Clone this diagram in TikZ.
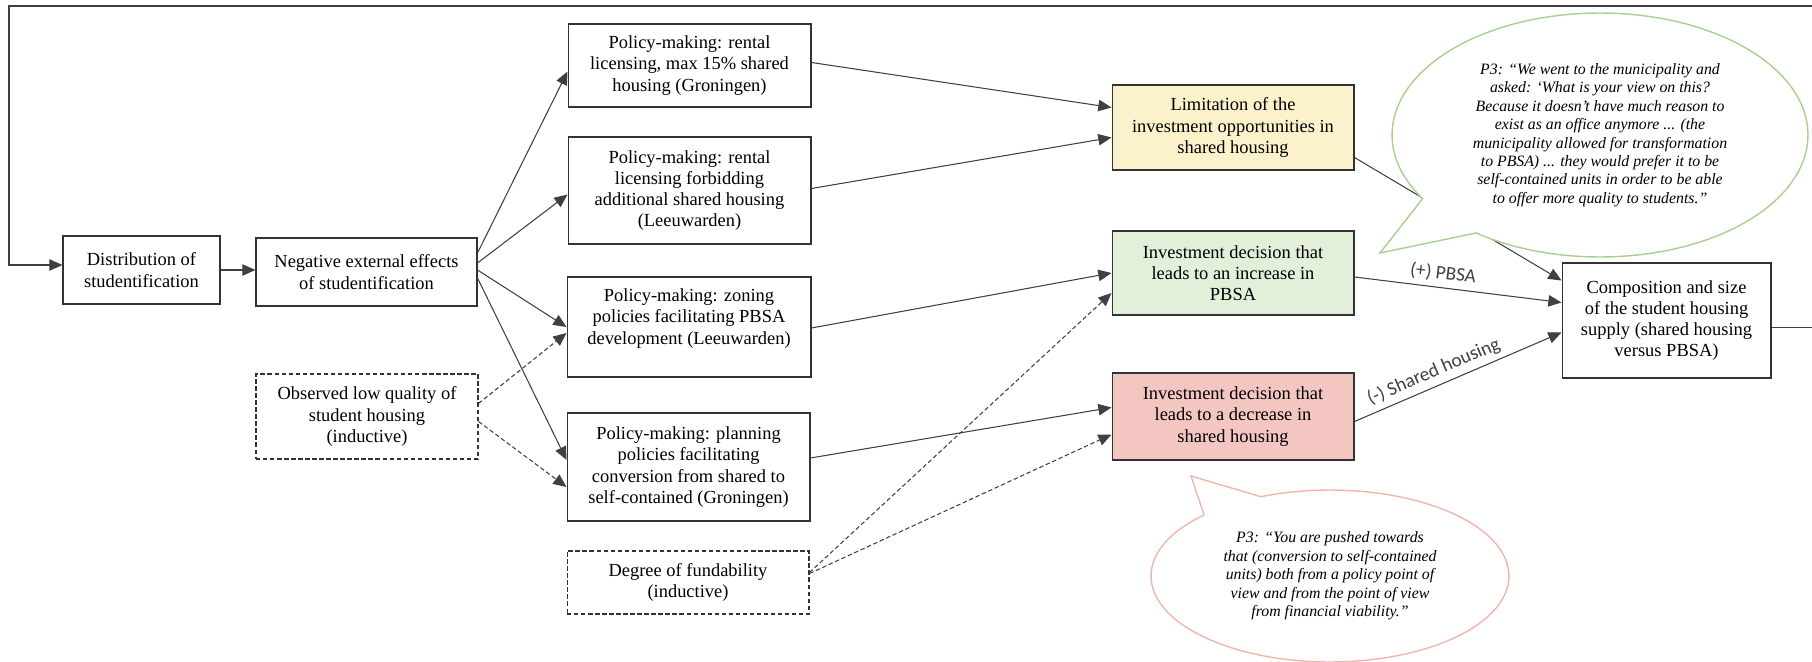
\documentclass[tikz,border=0pt]{standalone}
\usepackage{fontspec}
\setmainfont{Liberation Serif}
\newfontfamily\labelfont{Carlito}
\usepackage{tikz}
\usetikzlibrary{arrows.meta, calc, shapes.callouts}

\definecolor{limitfill}{HTML}{FBF2CC}
\definecolor{incrfill}{HTML}{E2EFD9}
\definecolor{decrfill}{HTML}{F4C6C1}
\definecolor{greenline}{HTML}{A9D18E}
\definecolor{redline}{HTML}{F2B5AA}

\begin{document}
\begin{tikzpicture}[
        x=0.02cm, y=-0.02cm,
        boxnode/.style={rectangle, draw=black!80, fill=white, line width=0.6pt, align=center, inner sep=1pt, font=\fontsize{10.5}{12.1}\selectfont},
        dashnode/.style={boxnode, dash pattern=on 2.5pt off 1.5pt},
        quotenode/.style={ellipse callout, draw=#1, fill=white, line width=0.8pt, callout pointer arc=22, inner sep=0pt, align=center, font=\fontsize{9}{10.5}\selectfont\itshape},
        linkarrow/.style={-{Triangle[length=7.5pt, width=6.5pt]}, line width=0.6pt, color=black!75},
        dasharrow/.style={linkarrow, dash pattern=on 2.5pt off 1.5pt},
        edgelabel/.style={font=\labelfont\fontsize{11}{13}\selectfont, sloped, above, inner sep=3pt}
    ]
        \useasboundingbox (0,0) rectangle (1812,662);

        % Causes
        \node[boxnode, minimum width=3.14cm, minimum height=1.36cm] (dist) at (141.5, 270) {Distribution of\\ studentification};
        \node[boxnode, minimum width=4.42cm, minimum height=1.36cm] (neg) at (366.5, 272) {Negative external effects\\ of studentification};
        \node[dashnode, minimum width=4.44cm, minimum height=1.70cm] (obs) at (367, 416.5) {Observed low quality of\\ student housing\\ (inductive)};

        % Policy-making
        \node[boxnode, minimum width=4.86cm, minimum height=1.66cm] (p1) at (689.5, 65.5) {Policy-making: rental\\ licensing, max 15\% shared\\ housing (Groningen)};
        \node[boxnode, minimum width=4.86cm, minimum height=2.14cm] (p2) at (689.5, 190.5) {Policy-making: rental\\ licensing forbidding\\ additional shared housing\\ (Leeuwarden)};
        \node[boxnode, minimum width=4.88cm, minimum height=2.0cm] (p3) at (689, 327) {Policy-making: zoning\\ policies facilitating PBSA\\ development (Leeuwarden)\\ \mbox{}};
        \node[boxnode, minimum width=4.86cm, minimum height=2.16cm] (p4) at (688.5, 467) {Policy-making: planning\\ policies facilitating\\ conversion from shared to\\ self-contained (Groningen)};
        \node[dashnode, minimum width=4.84cm, minimum height=1.26cm] (fund) at (688, 582.5) {Degree of fundability\\ (inductive)};

        % Investment outcomes
        \node[boxnode, fill=limitfill, minimum width=4.84cm, minimum height=1.70cm] (limit) at (1233, 127.5) {Limitation of the\\ investment opportunities in\\ shared housing};
        \node[boxnode, fill=incrfill, minimum width=4.84cm, minimum height=1.68cm] (incr) at (1233, 273) {Investment decision that\\ leads to an increase in\\ PBSA};
        \node[boxnode, fill=decrfill, minimum width=4.84cm, minimum height=1.74cm] (decr) at (1233, 416.5) {Investment decision that\\ leads to a decrease in\\ shared housing};
        \node[boxnode, minimum width=4.18cm, minimum height=2.30cm] (comp) at (1666.5, 320.5) {Composition and size\\ of the student housing\\ supply (shared housing\\ versus PBSA)};

        % Connections
        \draw[linkarrow] (dist.east) -- (dist.east -| neg.west);
        \draw[linkarrow] ($(neg.east)+(0,-19)$) -- ($(p1.west)+(0,6)$);
        \draw[linkarrow] ($(neg.east)+(0,-9)$) -- ($(p2.west)+(0,4)$);
        \draw[linkarrow] ($(neg.east)+(0,-2)$) -- (p3.west);
        \draw[linkarrow] ($(neg.east)+(0,6)$) -- ($(p4.west)+(0,-7)$);
        \draw[dasharrow] ($(obs.east)+(0,-13)$) -- ($(p3.west)+(0,6)$);
        \draw[dasharrow] ($(obs.east)+(0,5)$) -- ($(p4.west)+(0,20)$);
        \draw[linkarrow] ($(p1.east)+(0,-3)$) -- ($(limit.west)+(0,-20)$);
        \draw[linkarrow] ($(p2.east)+(0,-2)$) -- ($(limit.west)+(0,10)$);
        \draw[linkarrow] ($(p3.east)+(0,1)$) -- (incr.west);
        \draw[linkarrow] ($(p4.east)+(0,-9)$) -- ($(decr.west)+(0,-9)$);
        \draw[dasharrow] ($(fund.east)+(0,-10)$) -- ($(incr.west)+(0,20)$);
        \draw[dasharrow] ($(fund.east)+(0,-9)$) -- ($(decr.west)+(0,18)$);
        \draw[linkarrow] ($(limit.east)+(0,30)$) -- ($(comp.west)+(0,-40)$);
        \draw[linkarrow] ($(incr.east)+(0,4)$) -- node[edgelabel, pos=0.42] {(+) PBSA} ($(comp.west)+(0,-18)$);
        \draw[linkarrow] ($(decr.east)+(0,5)$) -- node[edgelabel, pos=0.41] {(-) Shared housing} ($(comp.west)+(0,12)$);

        % Feedback loop
        \coordinate (loopL) at (9, 6);
        \draw[linkarrow] ($(comp.east)+(0,7)$) -- ($(comp.east)+(80,7)$) |- (loopL) |- ($(dist.west)+(0,-5)$);

        % Interview quotes
        \node[quotenode=greenline, minimum width=8.32cm, minimum height=4.88cm, callout absolute pointer={(1380, 253)}] (q1) at (1600, 135) {P3: “We went to the municipality and\\ asked: ‘What is your view on this?\\ Because it doesn’t have much reason to\\ exist as an office anymore ... (the\\ municipality allowed for transformation\\ to PBSA) ... they would prefer it to be\\ self-contained units in order to be able\\ to offer more quality to students.”};
        \node[quotenode=redline, minimum width=7.16cm, minimum height=3.44cm, callout absolute pointer={(1191, 476)}] (q2) at (1330, 576) {P3: “You are pushed towards\\ that (conversion to self-contained\\ units) both from a policy point of\\ view and from the point of view\\ from financial viability.”};
    \end{tikzpicture}
\end{document}
